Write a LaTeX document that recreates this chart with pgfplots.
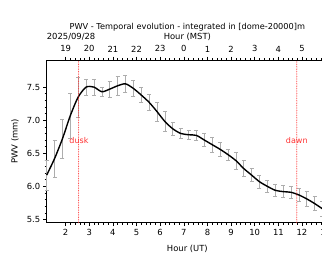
\documentclass[border=0pt]{standalone}
\usepackage{fontspec}
\setmainfont{DejaVu Sans}
\usepackage{pgfplots}
\usepackage{pgfplotstable}
\pgfplotsset{compat=1.18}
\pgfplotstableread{
x y e
1.200 6.17 0.23
1.533 6.42 0.28
1.867 6.72 0.30
2.200 7.07 0.34
2.533 7.35 0.30
2.867 7.50 0.12
3.200 7.50 0.12
3.533 7.43 0.07
3.867 7.47 0.12
4.200 7.52 0.14
4.533 7.55 0.13
4.867 7.48 0.12
5.200 7.38 0.11
5.533 7.27 0.12
5.867 7.13 0.14
6.200 6.98 0.15
6.533 6.87 0.10
6.867 6.80 0.07
7.200 6.78 0.07
7.533 6.77 0.07
7.867 6.70 0.10
8.200 6.63 0.11
8.533 6.56 0.10
8.867 6.48 0.08
9.200 6.39 0.13
9.533 6.27 0.12
9.867 6.17 0.10
10.200 6.07 0.10
10.533 6.00 0.09
10.867 5.94 0.09
11.200 5.92 0.09
11.533 5.91 0.09
11.867 5.87 0.10
12.200 5.81 0.11
12.533 5.74 0.11
12.867 5.66 0.11
}\pwvdata
\definecolor{ebgray}{HTML}{ADADAD}
\definecolor{lred}{HTML}{FF3030}
\begin{document}
\fontsize{8.4}{10}\selectfont
\begin{tikzpicture}[font=\fontsize{8.4}{10}\selectfont]
\pgfplotsset{
  commonax/.style={
    scale only axis, width=281.3pt, height=162.7pt,
    at={(0,0)}, anchor=south west,
    xmin=1.2, xmax=13.1,
    ymin=5.45, ymax=7.91,
    tick align=outside,
    major tick length=3.5pt, minor tick length=2pt,
    every tick/.style={black, line width=0.5pt},
    axis line style={line width=0.7pt},
    /pgf/number format/assume math mode=true,
  }
}
\begin{axis}[commonax,
  xtick={2,3,4,5,6,7,8,9,10,11,12,13},
  minor x tick num=4,
  ytick={5.5,6.0,6.5,7.0,7.5},
  minor y tick num=4,
  yticklabel style={/pgf/number format/.cd, fixed, fixed zerofill, precision=1},
  axis x line*=bottom,
  axis y line*=left,
  xticklabel style={yshift=-0.5pt},
  clip=false,
]
\addplot[draw=none, mark=none, forget plot,
  error bars/.cd, y dir=both, y explicit,
  error bar style={draw=ebgray, line width=0.6pt},
  error mark options={rotate=90, mark size=2pt, draw=ebgray, line width=0.6pt}]
  table[x=x, y=y, y error=e] {\pwvdata};
\addplot[black, line width=1.4pt, smooth, tension=0.45, mark=none] table[x=x, y=y] {\pwvdata};
\addplot[lred, line cap=round, dash pattern=on 0pt off 1.7pt, line width=1pt] coordinates {(2.55,5.45) (2.55,7.91)};
\addplot[lred, line cap=round, dash pattern=on 0pt off 1.7pt, line width=1pt] coordinates {(11.78,5.45) (11.78,7.91)};
\node[lred, font=\fontsize{8}{9}\selectfont] at (axis cs:2.565,6.70) {dusk};
\node[lred, font=\fontsize{8}{9}\selectfont] at (axis cs:11.78,6.70) {dawn};
\end{axis}
\begin{axis}[commonax,
  axis x line*=top,
  axis y line=none,
  xtick={2,3,4,5,6,7,8,9,10,11,12,13},
  xticklabels={19,20,21,22,23,0,1,2,3,4,5,6},
  minor x tick num=4,
  ytick=\empty,
  xticklabel style={yshift=1.5pt},
]
\addplot[draw=none] coordinates {(2,6)};
\end{axis}
\node[font=\fontsize{8.2}{10}\selectfont] at (140.65pt,195.5pt) {PWV - Temporal evolution - integrated in [dome-20000]m};
\node at (140.65pt,186pt) {Hour (MST)};
\node[anchor=west, inner sep=0pt] at (0pt,186pt) {2025/09/28};
\node at (140.65pt,-26.5pt) {Hour (UT)};
\node[rotate=90] at (-31.7pt,81.35pt) {PWV (mm)};
\pgfresetboundingbox
\useasboundingbox (-46.7pt,-35.3pt) rectangle (275.3pt,222.7pt);
\end{tikzpicture}
\end{document}
